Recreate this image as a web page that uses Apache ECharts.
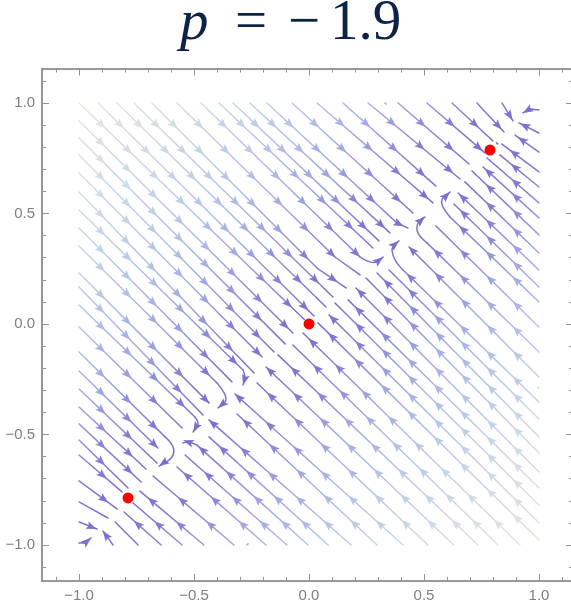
<!DOCTYPE html>
<html><head><meta charset="utf-8">
<style>html,body{margin:0;padding:0;background:#fff;overflow:hidden}#c{width:571px;height:603px}</style>
<script src="https://cdn.jsdelivr.net/npm/echarts@6/dist/echarts.min.js"></script>
</head><body><div id="c"></div>
<script>
// Title and ticks
const titleParts = ['p', '=', '\u2212', '1.9'];
const majorTicks = [-1, -0.5, 0, 0.5, 1];
const minorTicks = [-1.1,-0.9,-0.8,-0.7,-0.6,-0.4,-0.3,-0.2,-0.1,0.1,0.2,0.3,0.4,0.6,0.7,0.8,0.9,1.1];
// Red points
const fixedPoints = [[-0.787,-0.787],[0,0],[0.787,0.787]];
// Streamlines flowing down-right from the top edge and left edge
const upperStreams = [
 [[0.839,1],[0.887,0.919]],
 [[0.730,1],[0.848,0.869]],
 [[0.622,1],[0.800,0.828]],
 [[0.513,1],[0.765,0.774]],
 [[0.387,1],[0.696,0.724]],
 [[0.257,1],[0.657,0.656]],
 [[0.148,1],[0.552,0.624]],
 [[0.035,1],[0.539,0.548]],
 [[-0.074,1],[0.452,0.502]],
 [[-0.183,1],[0.383,0.457],[0.430,0.434]],
 [[-0.257,1],[0.352,0.412]],
 [[-0.330,1],[0.304,0.376]],
 [[-0.391,1],[0.278,0.344]],
 [[-0.574,1],[0.113,0.303],[0.222,0.222]],
 [[-0.683,1],[0.035,0.253],[0.161,0.163]],
 [[-0.761,1],[0.104,0.122]],
 [[-0.835,1],[0.074,0.077]],
 [[-0.917,1],[0.022,0.036]],
 [[-1,1],[-0.02,0.02]],
 [[-1,0.919],[-0.07,-0.041]],
 [[-1,0.842],[-0.104,-0.09]],
 [[-1,0.765],[-0.152,-0.127]],
 [[-1,0.683],[-0.204,-0.149]],
 [[-1,0.597],[-0.239,-0.222]],
 [[-1,0.434],[-0.335,-0.262]],
 [[-1,0.231],[-0.435,-0.357]],
 [[-1,0.167],[-0.461,-0.412]],
 [[-1,-0.014],[-0.552,-0.471]],
 [[-1,-0.213],[-0.657,-0.561]],
 [[-1,-0.294],[-0.661,-0.629]],
 [[-1,-0.376],[-0.709,-0.656]],
 [[-1,-0.452],[-0.730,-0.715]],
 [[-1,-0.525],[-0.787,-0.742]],
 [[-1,-0.593],[-0.813,-0.76]],
 [[-1,-0.710],[-0.835,-0.837]],
 [[-1,-0.805],[-0.874,-0.878]],
 [[-1,-0.896],[-0.922,-0.928]]
];
// Streamlines flowing up-left from the bottom edge and right edge
const lowerStreams = [
 [[-0.852,-1],[-0.896,-0.937]],
 [[-0.743,-1],[-0.843,-0.896]],
 [[-0.643,-1],[-0.804,-0.851]],
 [[-0.552,-1],[-0.765,-0.81]],
 [[-0.457,-1],[-0.735,-0.756]],
 [[-0.326,-1],[-0.678,-0.688]],
 [[-0.187,-1],[-0.574,-0.647]],
 [[-0.096,-1],[-0.539,-0.593]],
 [[0.083,-1],[-0.435,-0.511]],
 [[0.296,-1],[-0.313,-0.407]],
 [[0.517,-1],[-0.226,-0.267]],
 [[0.630,-1],[-0.187,-0.195]],
 [[0.735,-1],[-0.135,-0.14]],
 [[0.822,-1],[-0.07,-0.095]],
 [[0.917,-1],[-0.026,-0.041]],
 [[1,-0.977],[0.039,0.005]],
 [[1,-0.90],[0.087,0.041]],
 [[1,-0.819],[0.113,0.095]],
 [[1,-0.742],[0.17,0.109]],
 [[1,-0.67],[0.204,0.163]],
 [[1,-0.584],[0.248,0.208]],
 [[1,-0.511],[0.296,0.231]],
 [[1,-0.43],[0.348,0.244]],
 [[1,-0.24],[0.435,0.348]],
 [[1,-0.014],[0.552,0.443]],
 [[1,0.167],[0.63,0.543]],
 [[1,0.244],[0.648,0.593]],
 [[1,0.321],[0.678,0.643]],
 [[1,0.403],[0.709,0.692]],
 [[1,0.48],[0.757,0.71]],
 [[1,0.548],[0.774,0.751]],
 [[1,0.62],[0.83,0.765]],
 [[1,0.688],[0.839,0.814]],
 [[1,0.778],[0.896,0.855]],
 [[1,0.864],[0.913,0.91]]
];
// Streamlines that bend at the diagonal and finish in an arrowhead
const hookStreams = [
 [[-0.470,1],[0.222,0.303],[0.265,0.281],[0.296,0.281],[0.322,0.303]],
 [[-1,0.516],[-0.287,-0.208],[-0.278,-0.244],[-0.287,-0.276]],
 [[-1,0.353],[-0.40,-0.267],[-0.365,-0.321],[-0.365,-0.353],[-0.396,-0.38]],
 [[-1,0.086],[-0.496,-0.421],[-0.483,-0.452],[-0.504,-0.489]],
 [[-1,-0.127],[-0.626,-0.511],[-0.591,-0.557],[-0.596,-0.602],[-0.652,-0.643]],
 [[-1,-0.991],[-0.974,-0.991],[-0.948,-0.968]],
 [[-0.004,-1],[-0.487,-0.548],[-0.526,-0.534],[-0.548,-0.538]],
 [[0.183,-1],[-0.435,-0.434]],
 [[0.409,-1],[-0.322,-0.317]],
 [[1,-0.353],[0.409,0.244],[0.374,0.29],[0.361,0.335],[0.37,0.357],[0.391,0.376]],
 [[1,-0.127],[0.513,0.367],[0.474,0.412],[0.474,0.457],[0.504,0.484]],
 [[1,0.10],[0.613,0.484],[0.583,0.529],[0.578,0.561],[0.613,0.597]],
 [[1,0.968],[0.961,0.973],[0.93,0.955]]
];
// Tiny stubs without an arrowhead
const stubStreams = [
 [[0.33,1],[0.335,0.995]],
 [[1,-0.29],[0.995,-0.287]],
 [[-0.27,-1],[-0.265,-0.995]],
 [[0.815,0.82],[0.82,0.815]]
];

const AXIS_COLOR = '#929292', LABEL_COLOR = '#7f7f7f';
const colourStops = [
 [0.00,[122,110,207]],[0.30,[133,125,214]],[0.60,[160,165,226]],
 [1.00,[183,198,230]],[1.45,[205,220,230]],[1.75,[222,226,224]],[2.00,[238,230,216]]
];
function colourAt(p){
  const d = Math.abs(p[0]-p[1]);
  for(let i=1;i<colourStops.length;i++){
    const a=colourStops[i-1], b=colourStops[i];
    if(d<=b[0]){
      const t=(d-a[0])/(b[0]-a[0]);
      return 'rgb('+a[1].map((v,k)=>Math.round(v+(b[1][k]-v)*t)).join(',')+')';
    }
  }
  return 'rgb(238,230,216)';
}
const FIRST_GAP=31, GAP=37;
function lerp(a,b,t){return [a[0]+(b[0]-a[0])*t,a[1]+(b[1]-a[1])*t];}
function arrowShape(c,ux,uy,col){
  const L=5.5,B=5,N=3,W=4,nx=-uy,ny=ux;
  return {type:'polygon',silent:true,shape:{points:[
    [c[0]+ux*L,c[1]+uy*L],
    [c[0]-ux*B+nx*W,c[1]-uy*B+ny*W],
    [c[0]-ux*N,c[1]-uy*N],
    [c[0]-ux*B-nx*W,c[1]-uy*B-ny*W]]},style:{fill:col}};
}
const streams = [];
upperStreams.concat(lowerStreams).forEach(s=>streams.push({pts:s,kind:'plain'}));
hookStreams.forEach(s=>streams.push({pts:s,kind:'hook'}));
stubStreams.forEach(s=>streams.push({pts:s,kind:'stub'}));

function renderStream(params,api){
  const st=streams[api.value(0)];
  const px=st.pts.map(p=>api.coord(p));
  const lens=[];let total=0;
  for(let i=1;i<px.length;i++){const l=Math.hypot(px[i][0]-px[i-1][0],px[i][1]-px[i-1][1]);lens.push(l);total+=l;}
  const a=px[0],b=px[px.length-1];
  const mid=lerp(st.pts[0],st.pts[st.pts.length-1],0.5);
  const stroke=new echarts.graphic.LinearGradient(a[0],a[1],b[0],b[1],[
    {offset:0,color:colourAt(st.pts[0])},
    {offset:0.5,color:colourAt(mid)},
    {offset:1,color:colourAt(st.pts[st.pts.length-1])}],true);
  const lineStyle={stroke:stroke,fill:'none',lineWidth:1.5,lineCap:'round'};
  const children=[];
  if(px.length>2){
    children.push({type:'polyline',silent:true,shape:{points:px.slice(0,2)},style:lineStyle});
    children.push({type:'polyline',silent:true,shape:{points:px.slice(1),smooth:0.4},style:lineStyle});
  } else {
    children.push({type:'polyline',silent:true,shape:{points:px},style:lineStyle});
  }
  if(st.kind==='stub') return {type:'group',children};
  const at=(d)=>{
    let i=0,r=d;
    while(i<lens.length-1&&r>lens[i]){r-=lens[i];i++;}
    const t=Math.min(1,r/lens[i]);
    const ux=(px[i+1][0]-px[i][0])/lens[i],uy=(px[i+1][1]-px[i][1])/lens[i];
    return {c:lerp(px[i],px[i+1],t),ux,uy,data:lerp(st.pts[i],st.pts[i+1],t)};
  };
  const places=[];
  const limit=st.kind==='hook'?total-20:total-3;
  if(total<FIRST_GAP){ if(st.kind!=='hook') places.push(total*0.7); }
  else for(let d=FIRST_GAP;d<limit;d+=GAP) places.push(d);
  if(st.kind==='hook') places.push(total-5.5);
  places.forEach(d=>{
    const q=at(d);
    children.push(arrowShape(q.c,q.ux,q.uy,colourAt(q.data)));
  });
  return {type:'group',children};
}

const X_MIN=-1.161,X_MAX=1.148,Y_MIN=-1.163,Y_MAX=1.156;
const line={show:true,onZero:false,lineStyle:{color:AXIS_COLOR,width:1.6}};
function labelOpts(){
  return {show:true,customValues:majorTicks,margin:7,color:LABEL_COLOR,fontSize:15,
      fontFamily:'Liberation Sans',formatter:v=>v.toFixed(1).replace('-','\u2212')};
}
function xa(pos,vals,len,labels){
  return {type:'value',position:pos,min:X_MIN,max:X_MAX,splitLine:{show:false},axisLine:line,
    axisTick:{show:true,inside:true,length:len,customValues:vals,lineStyle:{color:AXIS_COLOR,width:1}},
    axisLabel:labels?labelOpts():{show:false}};
}
function ya(pos,vals,len,labels){
  return {type:'value',position:pos,min:Y_MIN,max:Y_MAX,splitLine:{show:false},axisLine:line,
    axisTick:{show:true,inside:true,length:len,customValues:vals,lineStyle:{color:AXIS_COLOR,width:1}},
    axisLabel:labels?labelOpts():{show:false}};
}
const titleLefts=[180,235,288,330];
const chart=echarts.init(document.getElementById('c'),null,{renderer:'canvas'});
chart.setOption({
  animation:false,
  backgroundColor:'#fff',
  title:titleParts.map((t,i)=>({left:titleLefts[i],top:-4,text:t,padding:0,
    textStyle:{fontFamily:'Liberation Serif',fontStyle:i===0?'italic':'normal',fontWeight:'normal',fontSize:57,color:'#0b2347'}})),
  grid:{left:42,top:68.5,width:531,height:512.5,containLabel:false,outerBoundsMode:'none'},
  xAxis:[xa('bottom',majorTicks,7,true),xa('top',majorTicks,7,false),xa('bottom',minorTicks,4,false),xa('top',minorTicks,4,false)],
  yAxis:[ya('left',majorTicks,7,true),ya('right',majorTicks,7,false),ya('left',minorTicks,4,false),ya('right',minorTicks,4,false)],
  series:[
    {type:'custom',coordinateSystem:'cartesian2d',clip:false,renderItem:renderStream,silent:true,
     data:streams.map((s,i)=>[i]),encode:{x:-1,y:-1}},
    {type:'scatter',data:fixedPoints,symbolSize:11,silent:true,z:5,itemStyle:{color:'#ff0000',opacity:1}}
  ]
});
</script></body></html>
